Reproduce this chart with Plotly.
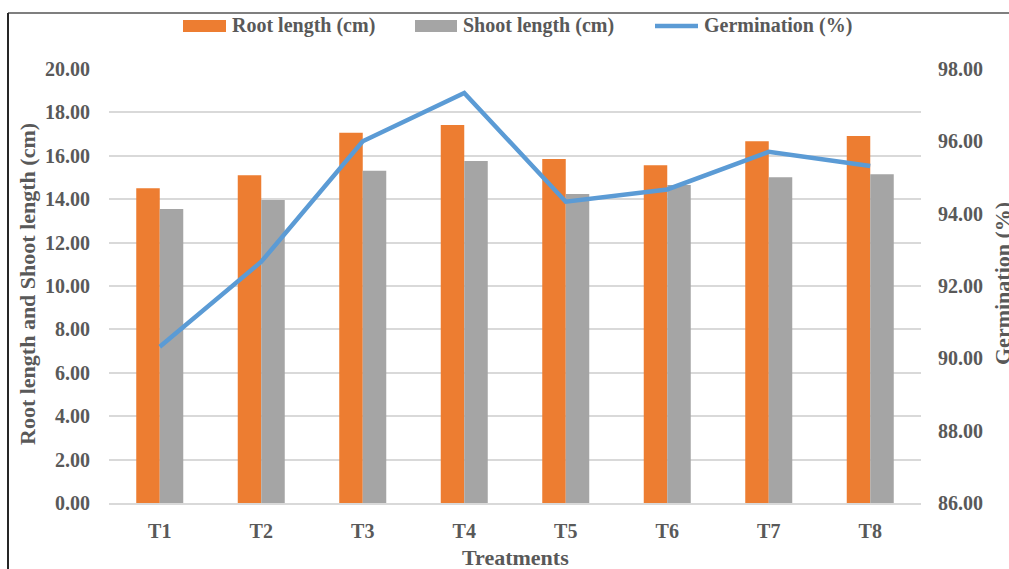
import plotly.graph_objects as go

categories = ["T1", "T2", "T3", "T4", "T5", "T6", "T7", "T8"]
root_length = [14.50, 15.10, 17.06, 17.42, 15.85, 15.56, 16.67, 16.91]
shoot_length = [13.55, 13.96, 15.31, 15.76, 14.24, 14.65, 15.01, 15.15]
germination = [90.32, 92.67, 96.00, 97.34, 94.33, 94.67, 95.71, 95.32]

left_ticks = [0, 2, 4, 6, 8, 10, 12, 14, 16, 18, 20]
right_ticks = [86, 88, 90, 92, 94, 96, 98]

FONT = "Liberation Serif"
TXT = "#595959"
ORANGE, GRAY, BLUE = "#ED7D31", "#A5A5A5", "#5B9BD5"

fig = go.Figure()
fig.add_trace(go.Bar(x=categories, y=root_length, name="Root length (cm)",
                     marker=dict(color=ORANGE, line=dict(width=0))))
fig.add_trace(go.Bar(x=categories, y=shoot_length, name="Shoot length (cm)",
                     marker=dict(color=GRAY, line=dict(width=0))))
fig.add_trace(go.Scatter(x=categories, y=germination, name="Germination (%)",
                         mode="lines", line=dict(color=BLUE, width=4.5),
                         yaxis="y2"))

W, H = 1009, 569
L, R, T, B = 109, 88, 69, 66
pw, ph = W - L - R, H - T - B

def px(x):
    return (x - L) / pw

def py(y):
    return (H - B - y) / ph

tickfont = dict(family=FONT, size=20, color=TXT, weight="bold")

# manual legend (Excel-style wide swatches)
legend_items = [
    ("rect", ORANGE, 183, 226, "Root length (cm)"),
    ("rect", GRAY, 415, 457, "Shoot length (cm)"),
    ("line", BLUE, 655, 698, "Germination (%)"),
]
shapes = [
    dict(type="line", xref="paper", yref="paper", x0=px(8), x1=px(1015),
         y0=py(13), y1=py(13), line=dict(color="#7F7F7F", width=2)),
    dict(type="line", xref="paper", yref="paper", x0=px(8), x1=px(8),
         y0=py(13), y1=py(575), line=dict(color="#262626", width=2)),
]
annotations = [
    dict(text="<b>Treatments</b>", x=px(515), y=py(557), xref="paper", yref="paper",
         showarrow=False, xanchor="center", yanchor="middle",
         font=dict(family=FONT, size=22, color=TXT)),
    dict(text="<b>Root length and Shoot length (cm)</b>", x=px(27), y=py(284),
         xref="paper", yref="paper", showarrow=False, textangle=-90,
         xanchor="center", yanchor="middle",
         font=dict(family=FONT, size=22, color=TXT)),
    dict(text="<b>Germination (%)</b>", x=px(1002), y=py(283),
         xref="paper", yref="paper", showarrow=False, textangle=-90,
         xanchor="center", yanchor="middle",
         font=dict(family=FONT, size=22, color=TXT)),
]
for kind, col, x0, x1, label in legend_items:
    if kind == "rect":
        shapes.append(dict(type="rect", xref="paper", yref="paper",
                           x0=px(x0), x1=px(x1), y0=py(32), y1=py(20),
                           fillcolor=col, line=dict(width=0)))
    else:
        shapes.append(dict(type="line", xref="paper", yref="paper",
                           x0=px(x0), x1=px(x1), y0=py(26), y1=py(26),
                           line=dict(color=col, width=4.5)))
    annotations.append(dict(text=f"<b>{label}</b>", x=px(x1 + 4), y=py(26),
                            xref="paper", yref="paper", showarrow=False,
                            xanchor="left", yanchor="middle",
                            font=dict(family=FONT, size=20, color=TXT)))

fig.update_layout(
    width=W, height=H,
    margin=dict(l=L, r=R, t=T, b=B, pad=0, autoexpand=False),
    paper_bgcolor="white", plot_bgcolor="white",
    barmode="group", bargap=0.537, bargroupgap=0,
    font=dict(family=FONT, color=TXT, size=17),
    showlegend=False,
    xaxis=dict(
        type="category", showgrid=False, automargin=False,
        showline=True, linecolor="#D9D9D9", linewidth=2,
        ticks="outside", ticklen=9, tickcolor="rgba(0,0,0,0)",
        tickfont=tickfont, range=[-0.5, 7.5],
    ),
    yaxis=dict(
        range=[0, 20], tickvals=left_ticks, automargin=False,
        ticktext=[f"{v:.2f}" for v in left_ticks],
        showgrid=True, gridcolor="#D9D9D9", gridwidth=1.5,
        zeroline=False, showline=False,
        ticks="outside", ticklen=14, tickcolor="rgba(0,0,0,0)",
        tickfont=tickfont,
    ),
    yaxis2=dict(
        overlaying="y", side="right", automargin=False,
        range=[86, 98], tickvals=right_ticks,
        ticktext=[f"{v:.2f}" for v in right_ticks],
        showgrid=False, zeroline=False, showline=False,
        ticks="outside", ticklen=12, tickcolor="rgba(0,0,0,0)",
        tickfont=tickfont,
    ),
    annotations=annotations,
    shapes=shapes,
)

fig.write_html("out.html", config={"displayModeBar": False},
               post_script="document.body.style.margin='0px';")
